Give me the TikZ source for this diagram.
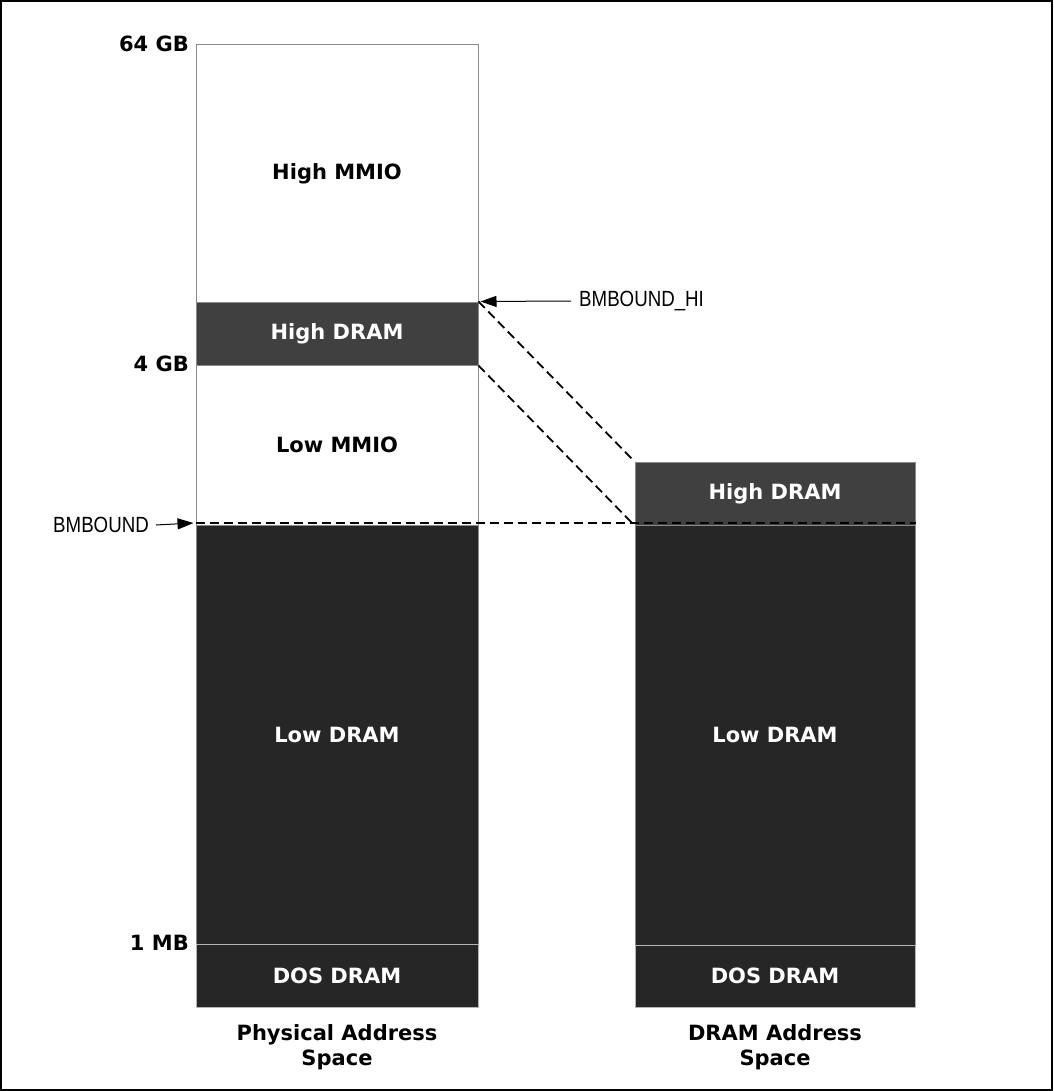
\documentclass[tikz,border=0pt]{standalone}
\usepackage{fontspec}
\setmainfont{DejaVu Sans}
\newfontfamily\markfont[FakeStretch=0.85]{Liberation Sans}
\usetikzlibrary{arrows.meta}

\definecolor{hidram}{HTML}{404040}
\definecolor{lodram}{HTML}{262626}
\definecolor{edgegray}{HTML}{8A8A8A}
\definecolor{sepgray}{HTML}{B4B4B4}

\tikzset{
  region/.style={draw=edgegray, line width=1pt, inner sep=0pt,
    font=\fontsize{21}{25}\selectfont\bfseries},
  lefthalf/.style={region, minimum width=282pt},
  righthalf/.style={region, minimum width=280pt},
  darkbox/.style={fill=lodram, text=white},
  greybox/.style={fill=hidram, text=white},
  sizelabel/.style={anchor=east, inner sep=0pt, font=\fontsize{21}{25}\selectfont\bfseries},
  boundlabel/.style={anchor=west, inner sep=0pt, font=\markfont\fontsize{22}{26}\selectfont},
  maplink/.style={line width=1.8pt, dash pattern=on 9pt off 5pt},
  pointer/.style={line width=1pt, -{Triangle[length=16pt,width=11pt]}}
}

\begin{document}
\begin{tikzpicture}[x=1pt, y=-1pt]

    \useasboundingbox (0,0) rectangle (1053,1091);
    \draw[line width=1.5pt] (1,1) rectangle (1052,1090);

    % physical address space
    \node[lefthalf, minimum height=257pt] at (337,173.5) (hmmio) {High MMIO};
    \node[lefthalf, greybox, minimum height=63pt] at (337,333.5) (hdram) {High DRAM};
    \node[lefthalf, minimum height=160pt] at (337,445) (lmmio) {Low MMIO};
    \node[lefthalf, darkbox, minimum height=419pt] at (337,734.5) (ldram) {Low DRAM};
    \node[lefthalf, darkbox, draw=sepgray, minimum height=63pt] at (337,975.5) (dos) {DOS DRAM};

    % dram address space
    \node[righthalf, greybox, minimum height=63pt] at (775,493.5) (rhdram) {High DRAM};
    \node[righthalf, darkbox, minimum height=420pt] at (775,735) (rldram) {Low DRAM};
    \node[righthalf, darkbox, draw=sepgray, minimum height=62pt] at (775,976) (rdos) {DOS DRAM};

    % sizes
    \node[sizelabel] at (189,44) (gb64) {64 GB};
    \node[sizelabel] at (189,364) (gb4) {4 GB};
    \node[sizelabel] at (189,943) (mb1) {1 MB};

    % captions
    \node[align=center, font=\fontsize{21}{25}\selectfont\bfseries] at (337,1047) (phys) {Physical Address\\Space};
    \node[align=center, font=\fontsize{21}{25}\selectfont\bfseries] at (775,1047) (dram) {DRAM Address\\Space};

    % boundaries
    \node[boundlabel] at (53,525) (bmb) {BMBOUND};
    \node[boundlabel] at (579,301) (bmbhi) {BMBOUND\_HI};

    \draw[pointer] ([xshift=7pt]bmb.east) -- ([xshift=-2pt,yshift=1.5pt]ldram.north west);
    \draw[pointer] ([xshift=-8pt]bmbhi.west) -- ([xshift=2pt]hdram.north east);

    \draw[maplink] (hdram.north east) -- (rhdram.north west);
    \draw[maplink] (hdram.south east) -- (rhdram.south west);
    \draw[maplink, line width=2.4pt] ([yshift=1.5pt]ldram.north west) -- ([yshift=1.5pt]rldram.north east);

\end{tikzpicture}
\end{document}
